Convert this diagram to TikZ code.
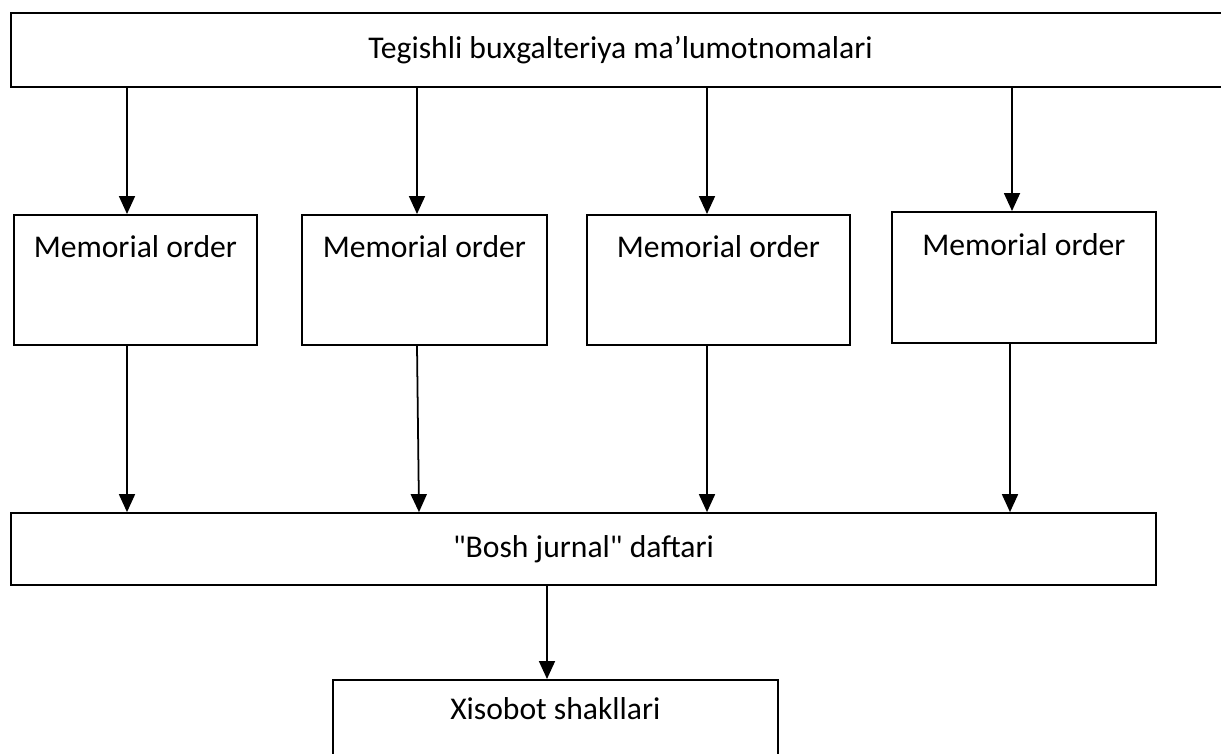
\documentclass[tikz,border=0pt]{standalone}
\usepackage{fontspec}
\setmainfont{Carlito}[Ligatures=TeXOff]
\usepackage{tikz}
\usetikzlibrary{arrows.meta, calc}

\begin{document}
\begin{tikzpicture}[
        box/.style={draw, line width=1pt, inner sep=0pt},
        arr/.style={line width=1pt, -{Triangle[width=0.32cm,length=0.36cm]}}
    ]
        \fontsize{18}{22}\selectfont
        \useasboundingbox (0,0) rectangle (24.42,-15.06);

        % Sources
        \node[box, minimum width=24.38cm, minimum height=1.48cm] (src) at (12.41,-1.0) {Tegishli buxgalteriya ma’lumotnomalari};

        % Memorial orders
        \node[box, anchor=north west, minimum width=4.86cm, text height=0.86cm, text depth=1.74cm] (mo1) at (0.26,-4.28) {Memorial order};
        \node[box, anchor=north west, minimum width=4.90cm, text height=0.86cm, text depth=1.74cm] (mo2) at (6.02,-4.28) {Memorial order};
        \node[box, anchor=north west, minimum width=5.26cm, text height=0.86cm, text depth=1.74cm] (mo3) at (11.72,-4.28) {Memorial order};
        \node[box, anchor=north west, minimum width=5.28cm, text height=0.88cm, text depth=1.74cm] (mo4) at (17.82,-4.22) {Memorial order};

        % Journal and reports
        \node[box, minimum width=22.9cm, minimum height=1.44cm] (bosh) at (11.67,-10.98) {"Bosh jurnal" daftari};
        \node[box, anchor=north west, minimum width=8.9cm, text height=0.80cm, text depth=1.4cm] (xis) at (6.64,-13.58) {Xisobot shakllari};

        % Arrows
        \draw[arr] (src.south -| 2.54,0) -- (mo1.north -| 2.54,0);
        \draw[arr] (src.south -| 8.34,0) -- (mo2.north -| 8.34,0);
        \draw[arr] (src.south -| 14.14,0) -- (mo3.north -| 14.14,0);
        \draw[arr] (src.south -| 20.24,0) -- (mo4.north -| 20.24,0);

        \draw[arr] (mo1.south -| 2.54,0) -- (bosh.north -| 2.54,0);
        \draw[arr] (mo2.south -| 8.34,0) -- (bosh.north -| 8.38,0);
        \draw[arr] (mo3.south -| 14.14,0) -- (bosh.north -| 14.14,0);
        \draw[arr] (mo4.south -| 20.2,0) -- (bosh.north -| 20.2,0);

        \draw[arr] (bosh.south -| 10.94,0) -- (xis.north -| 10.94,0);
    \end{tikzpicture}
\end{document}
